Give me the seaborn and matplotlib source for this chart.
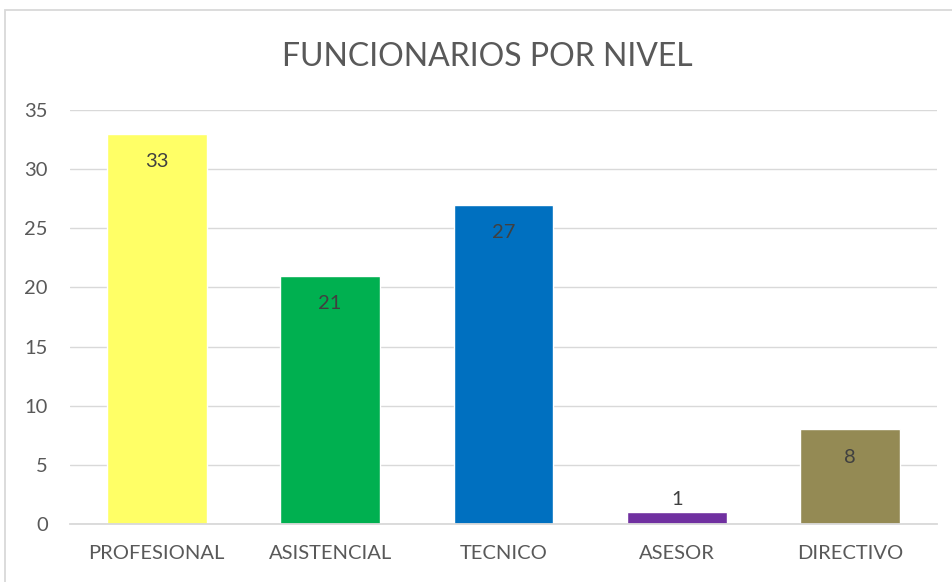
import matplotlib
matplotlib.use("Agg")
import matplotlib.pyplot as plt
import seaborn as sns
import pandas as pd
from matplotlib.patches import Rectangle

categories = ["PROFESIONAL", "ASISTENCIAL", "TECNICO", "ASESOR", "DIRECTIVO"]
values = [33, 21, 27, 1, 8]
colors = ["#FFFF66", "#00B050", "#0070C0", "#7030A0", "#948A54"]
yticks = [0, 5, 10, 15, 20, 25, 30, 35]
title = "FUNCIONARIOS POR NIVEL"

sns.set_theme(style="white")
plt.rcParams['font.family'] = ['Lato', 'DejaVu Sans']

df = pd.DataFrame({"nivel": categories, "n": values})

fig = plt.figure(figsize=(9.53, 5.82), dpi=100)
ax = fig.add_axes([70/953, 1-524/582, (937-70)/953, (524-110)/582])

sns.barplot(data=df, x="nivel", y="n", hue="nivel", palette=colors,
            legend=False, width=0.576, ax=ax, saturation=1)

ax.set_ylim(0, 35)
ax.set_xlim(-0.5, len(categories) - 0.5)
ax.set_yticks(yticks)
ax.set_yticklabels([str(t) for t in yticks], fontsize=14.5, color="#595959")
ax.tick_params(axis="x", labelsize=14.5, labelcolor="#595959", length=0, pad=15)
ax.tick_params(axis="y", length=0, pad=16)
ax.set_xlabel("")
ax.set_ylabel("")
ax.yaxis.grid(True, color="#D9D9D9", linewidth=1)
ax.set_axisbelow(True)
for s in ["top", "right", "left"]:
    ax.spines[s].set_visible(False)
ax.spines["bottom"].set_color("#D9D9D9")
ax.spines["bottom"].set_linewidth(1.3)

for i, v in enumerate(values):
    if v >= 5:
        ax.annotate(str(v), (i, v), xytext=(0, -20), textcoords="offset points",
                    ha="center", va="center", fontsize=14.5, color="#404040")
    else:
        ax.annotate(str(v), (i, v), xytext=(0, 9), textcoords="offset points",
                    ha="center", va="center", fontsize=14.5, color="#404040")

fig.text(487/953, 1-57/582, title, ha="center", va="center", fontsize=23, color="#595959")

fig.patches.append(Rectangle((5/953, -0.1), 1.1, 1-10/582+0.1, transform=fig.transFigure,
                             fill=False, edgecolor="#D9D9D9", linewidth=1.3))

fig.savefig("out.png", dpi=100)
